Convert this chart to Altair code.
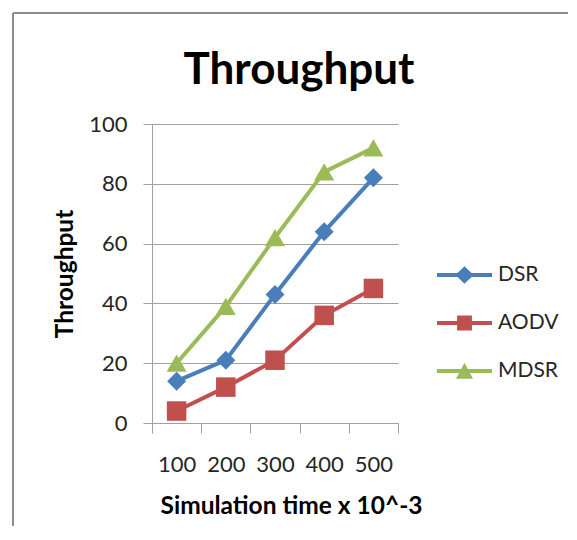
import altair as alt
import pandas as pd

times = [100, 200, 300, 400, 500]
series_names = ["DSR", "AODV", "MDSR"]
dsr = [14, 21, 43, 64, 82]
aodv = [4, 12, 21, 36, 45]
mdsr = [20, 39, 62, 84, 92]
colors = ["#4A7EBB", "#C0504D", "#9BBB59"]
marker_shapes = ["diamond", "square", "triangle-up"]
legend_shapes = [
    "M-1,-0.073H1V0.073H-1Z M0,-0.32L0.33,0L0,0.32L-0.33,0Z",
    "M-1,-0.073H1V0.073H-1Z M-0.27,-0.27H0.27V0.27H-0.27Z",
    "M-1,-0.073H1V0.073H-1Z M0,-0.3L0.31,0.28H-0.31Z",
]

rows = []
for name, vals in zip(series_names, [dsr, aodv, mdsr]):
    for t, v in zip(times, vals):
        rows.append({"series": name, "series2": name, "time": t, "value": v})
df = pd.DataFrame(rows)

FONT = "Lato"
GRAY = "#A0A0A0"

x_enc = alt.X(
    "time:Q",
    scale=alt.Scale(domain=[50, 550], nice=False, zero=False),
    axis=alt.Axis(
        values=[50, 150, 250, 350, 450, 550],
        labelExpr="datum.value < 500 ? '' + (datum.value + 50) : ''",
        labelOffset=24.6,
        labelFlush=False,
        labelOverlap=False,
        labelPadding=21,
        labelFontSize=22,
        labelColor="#262626",
        tickSize=10,
        tickColor=GRAY,
        domainColor=GRAY,
        grid=False,
        title="Simulation time x 10^-3",
        titleFontSize=24.5,
        titleFontWeight="bold",
        titleColor="#000000",
        titlePadding=19,
        titleX=139,
    ),
)
y_enc = alt.Y(
    "value:Q",
    scale=alt.Scale(domain=[0, 100], nice=False),
    axis=alt.Axis(
        values=[0, 20, 40, 60, 80, 100],
        tickSize=9,
        tickColor=GRAY,
        domainColor=GRAY,
        gridColor=GRAY,
        labelPadding=16,
        labelFontSize=22,
        labelColor="#262626",
        title="Throughput",
        titleFontSize=24.5,
        titleFontWeight="bold",
        titleColor="#000000",
        titlePadding=11,
    ),
)

base = alt.Chart(df).encode(x=x_enc, y=y_enc)

lines = base.mark_line(strokeWidth=4).encode(
    color=alt.Color("series:N", scale=alt.Scale(domain=series_names, range=colors), legend=None),
    detail="series:N",
)
points = base.mark_point(filled=True, opacity=1, strokeWidth=0).encode(
    color=alt.Color("series:N", scale=alt.Scale(domain=series_names, range=colors), legend=None),
    shape=alt.Shape("series:N", scale=alt.Scale(domain=series_names, range=marker_shapes), legend=None),
    size=alt.Size("series:N", scale=alt.Scale(domain=series_names, range=[361, 400, 484]), legend=None),
)
legend_props = dict(
    title=None,
    orient="none",
    legendX=285,
    legendY=128,
    clipHeight=46,
    symbolSize=3025,
    symbolStrokeWidth=0,
    labelFontSize=21,
    labelFont=FONT,
    labelColor="#262626",
    labelOffset=6,
    padding=0,
    rowPadding=2,
)
legend_layer = base.mark_point(filled=True, opacity=1).encode(
    color=alt.Color(
        "series2:N",
        scale=alt.Scale(domain=series_names, range=colors),
        legend=alt.Legend(**legend_props),
    ),
    shape=alt.Shape(
        "series2:N",
        scale=alt.Scale(domain=series_names, range=legend_shapes),
        legend=alt.Legend(**legend_props),
    ),
).transform_filter("datum.value < -1000")

frame_df = pd.DataFrame({"k": [0]})
left_border = alt.Chart(frame_df).mark_rule(color="#8C8C8C", strokeWidth=2).encode(
    x=alt.value(-139), y=alt.value(-111), y2=alt.value(402)
)
top_border = alt.Chart(frame_df).mark_rule(color="#8C8C8C", strokeWidth=2).encode(
    x=alt.value(-139), x2=alt.value(416), y=alt.value(-111)
)

chart = (
    alt.layer(left_border, top_border, lines, points, legend_layer)
    .resolve_scale(color="independent", shape="independent")
    .properties(
        width=246,
        height=299,
        padding={"left": 4, "top": 4, "right": 0, "bottom": 0},
        title=alt.TitleParams(
            "Throughput",
            font=FONT,
            fontSize=44,
            fontWeight="bold",
            color="#000000",
            anchor="middle",
            dx=24,
            dy=111,
            offset=30,
        ),
    )
    .configure(font=FONT)
    .configure_axis(labelFont=FONT, titleFont=FONT)
    .configure_view(stroke=None)
)

chart.save("out.html", embed_options={"renderer": "svg", "actions": False})
